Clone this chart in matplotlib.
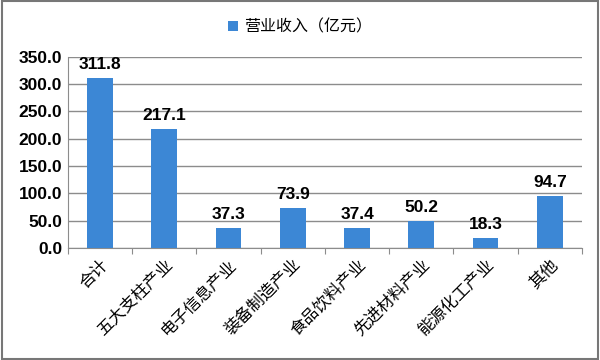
import matplotlib.pyplot as plt
import numpy as np
from matplotlib.patches import Rectangle

plt.rcParams['font.family'] = ['Noto Sans CJK SC', 'DejaVu Sans']

categories = ['合计', '五大支柱产业', '电子信息产业', '装备制造产业', '食品饮料产业',
              '先进材料产业', '能源化工产业', '其他']
revenue = [311.8, 217.1, 37.3, 73.9, 37.4, 50.2, 18.3, 94.7]
series_name = '营业收入（亿元）'

bar_color = '#3c87d5'
grey = '#8c8c8c'

fig = plt.figure(figsize=(6, 3.6), dpi=100)
ax = fig.add_axes([0.113, 0.311, 0.857, 0.531])

x = np.arange(len(categories))
bars = ax.bar(x, revenue, width=0.4, color=bar_color, label=series_name, zorder=3)

for xi, v in zip(x, revenue):
    ax.text(xi, v + 11, f'{v:.1f}', ha='center', va='bottom', fontsize=12.5,
            fontweight='bold', family=['Liberation Sans', 'DejaVu Sans'], zorder=4)

ax.set_xlim(-0.5, len(categories) - 0.5)
ax.set_ylim(0, 350)
ax.set_yticks(np.arange(0, 351, 50))
ax.set_yticklabels([f'{t:.1f}' for t in np.arange(0, 351, 50)], fontsize=12.5,
                   fontweight='bold', family=['Liberation Sans', 'DejaVu Sans'])
ax.yaxis.grid(True, color=grey, linewidth=1, zorder=0)
ax.tick_params(axis='y', length=0, pad=4)

# category ticks between bars
ax.set_xticks(np.arange(-0.5, len(categories), 1), minor=False)
ax.set_xticklabels([])
ax.tick_params(axis='x', length=4, color=grey, direction='out')
ax.set_xticks(x, minor=True)
ax.set_xticklabels(categories, minor=True, rotation=45, ha='right',
                   rotation_mode='anchor', fontsize=12)
ax.tick_params(axis='x', which='minor', length=0, pad=6)

for s in ['top', 'right']:
    ax.spines[s].set_visible(False)
for s in ['left', 'bottom']:
    ax.spines[s].set_color(grey)

fig.legend(handles=[bars], labels=[series_name], loc='center',
           bbox_to_anchor=(0.5, 0.925), frameon=False, fontsize=11.5,
           handlelength=0.6, handleheight=0.6, handletextpad=0.4)

# outer frame
fig.patches.append(Rectangle((0.003, 0.004), 0.994, 0.992, transform=fig.transFigure,
                             fill=False, edgecolor='#777777', linewidth=1.5))

fig.savefig('out.png', dpi=100)
